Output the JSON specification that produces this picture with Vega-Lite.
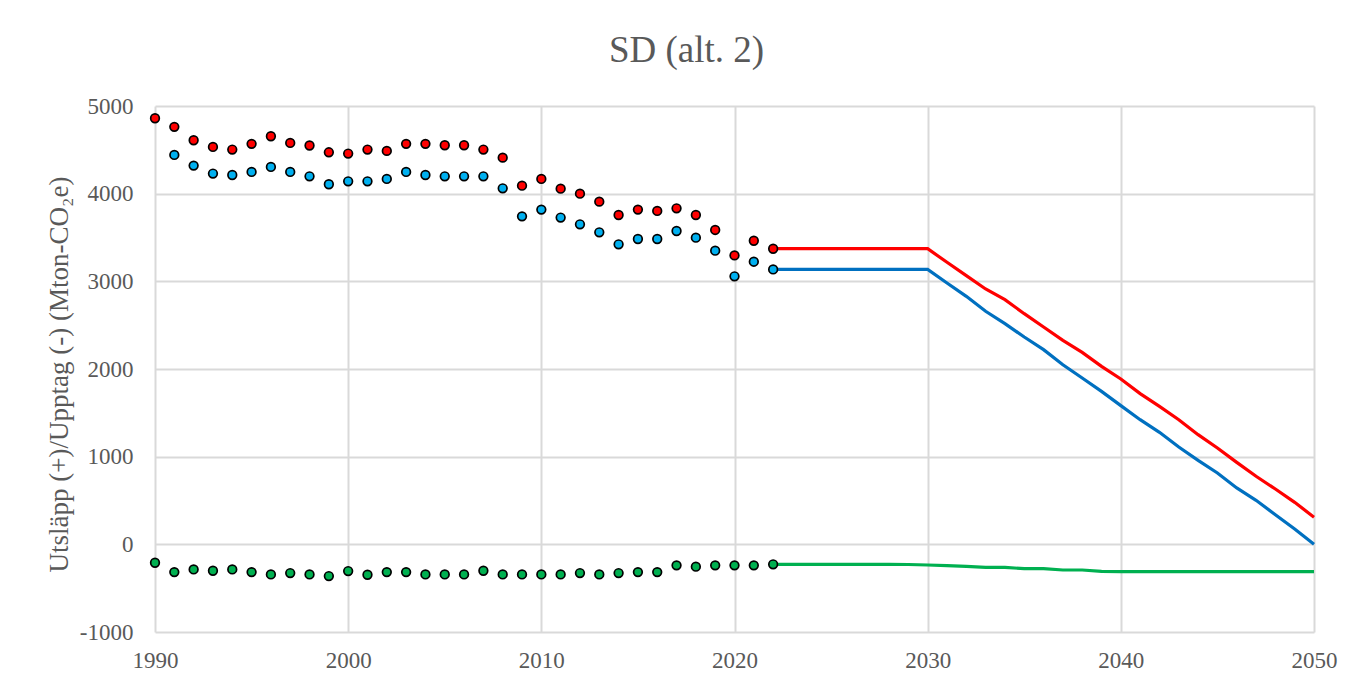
{
  "$schema": "https://vega.github.io/schema/vega-lite/v6.json",
  "width": 1159,
  "height": 526,
  "autosize": {"type": "none"},
  "padding": {"left": 155, "top": 106, "right": 43, "bottom": 50},
  "background": "white",
  "config": {
    "font": "Liberation Serif",
    "view": {"stroke": null},
    "axis": {
      "grid": true,
      "gridColor": "#d9d9d9",
      "gridWidth": 2,
      "domain": false,
      "ticks": false,
      "tickSize": 0,
      "labelFont": "Liberation Serif",
      "labelFontSize": 23,
      "labelColor": "#595959",
      "labelFlush": false,
      "labelOverlap": false,
      "labelExpr": "'' + datum.value"
    }
  },
  "title": {
    "text": "SD (alt. 2)",
    "font": "Liberation Serif",
    "fontSize": 37,
    "fontWeight": "normal",
    "color": "#595959",
    "anchor": "middle",
    "frame": "group",
    "baseline": "alphabetic",
    "offset": 41,
    "dx": -48,
    "dy": 45
  },
  "datasets": {
    "hist": [
      {"year": 1990, "Utsläpp": 4860, "Netto": null, "Upptag": -210},
      {"year": 1991, "Utsläpp": 4762, "Netto": 4442, "Upptag": -317},
      {"year": 1992, "Utsläpp": 4609, "Netto": 4320, "Upptag": -286},
      {"year": 1993, "Utsläpp": 4533, "Netto": 4229, "Upptag": -301},
      {"year": 1994, "Utsläpp": 4503, "Netto": 4213, "Upptag": -286},
      {"year": 1995, "Utsläpp": 4568, "Netto": 4248, "Upptag": -317},
      {"year": 1996, "Utsläpp": 4655, "Netto": 4305, "Upptag": -343},
      {"year": 1997, "Utsläpp": 4579, "Netto": 4248, "Upptag": -328},
      {"year": 1998, "Utsläpp": 4549, "Netto": 4198, "Upptag": -343},
      {"year": 1999, "Utsläpp": 4472, "Netto": 4107, "Upptag": -362},
      {"year": 2000, "Utsläpp": 4457, "Netto": 4141, "Upptag": -305},
      {"year": 2001, "Utsläpp": 4503, "Netto": 4141, "Upptag": -347},
      {"year": 2002, "Utsläpp": 4488, "Netto": 4168, "Upptag": -317},
      {"year": 2003, "Utsläpp": 4568, "Netto": 4248, "Upptag": -317},
      {"year": 2004, "Utsläpp": 4568, "Netto": 4213, "Upptag": -343},
      {"year": 2005, "Utsläpp": 4552, "Netto": 4198, "Upptag": -343},
      {"year": 2006, "Utsläpp": 4552, "Netto": 4198, "Upptag": -343},
      {"year": 2007, "Utsläpp": 4503, "Netto": 4198, "Upptag": -301},
      {"year": 2008, "Utsläpp": 4411, "Netto": 4061, "Upptag": -343},
      {"year": 2009, "Utsläpp": 4091, "Netto": 3741, "Upptag": -343},
      {"year": 2010, "Utsläpp": 4168, "Netto": 3818, "Upptag": -343},
      {"year": 2011, "Utsläpp": 4057, "Netto": 3727, "Upptag": -343},
      {"year": 2012, "Utsläpp": 4000, "Netto": 3650, "Upptag": -328},
      {"year": 2013, "Utsläpp": 3909, "Netto": 3559, "Upptag": -343},
      {"year": 2014, "Utsläpp": 3757, "Netto": 3422, "Upptag": -328},
      {"year": 2015, "Utsläpp": 3818, "Netto": 3483, "Upptag": -317},
      {"year": 2016, "Utsläpp": 3803, "Netto": 3483, "Upptag": -317},
      {"year": 2017, "Utsläpp": 3833, "Netto": 3574, "Upptag": -240},
      {"year": 2018, "Utsläpp": 3757, "Netto": 3498, "Upptag": -255},
      {"year": 2019, "Utsläpp": 3586, "Netto": 3350, "Upptag": -240},
      {"year": 2020, "Utsläpp": 3296, "Netto": 3057, "Upptag": -240},
      {"year": 2021, "Utsläpp": 3463, "Netto": 3224, "Upptag": -240},
      {"year": 2022, "Utsläpp": 3372, "Netto": 3136, "Upptag": -228}
    ],
    "scen": [
      {"year": 2022, "Utsläpp": 3372, "Netto": 3136, "Upptag": -228},
      {"year": 2023, "Utsläpp": 3372, "Netto": 3136, "Upptag": -228},
      {"year": 2024, "Utsläpp": 3372, "Netto": 3136, "Upptag": -228},
      {"year": 2025, "Utsläpp": 3372, "Netto": 3136, "Upptag": -228},
      {"year": 2026, "Utsläpp": 3372, "Netto": 3136, "Upptag": -228},
      {"year": 2027, "Utsläpp": 3372, "Netto": 3136, "Upptag": -228},
      {"year": 2028, "Utsläpp": 3372, "Netto": 3136, "Upptag": -228},
      {"year": 2029, "Utsläpp": 3372, "Netto": 3136, "Upptag": -230},
      {"year": 2030, "Utsläpp": 3372, "Netto": 3136, "Upptag": -236},
      {"year": 2031, "Utsläpp": 3217, "Netto": 2981, "Upptag": -243},
      {"year": 2032, "Utsläpp": 3065, "Netto": 2829, "Upptag": -251},
      {"year": 2033, "Utsläpp": 2913, "Netto": 2658, "Upptag": -262},
      {"year": 2034, "Utsläpp": 2791, "Netto": 2517, "Upptag": -262},
      {"year": 2035, "Utsläpp": 2631, "Netto": 2365, "Upptag": -278},
      {"year": 2036, "Utsläpp": 2479, "Netto": 2221, "Upptag": -278},
      {"year": 2037, "Utsläpp": 2327, "Netto": 2049, "Upptag": -293},
      {"year": 2038, "Utsläpp": 2190, "Netto": 1897, "Upptag": -293},
      {"year": 2039, "Utsläpp": 2030, "Netto": 1745, "Upptag": -308},
      {"year": 2040, "Utsläpp": 1886, "Netto": 1582, "Upptag": -312},
      {"year": 2041, "Utsläpp": 1719, "Netto": 1422, "Upptag": -312},
      {"year": 2042, "Utsläpp": 1574, "Netto": 1278, "Upptag": -312},
      {"year": 2043, "Utsläpp": 1422, "Netto": 1110, "Upptag": -312},
      {"year": 2044, "Utsläpp": 1251, "Netto": 958, "Upptag": -312},
      {"year": 2045, "Utsläpp": 1099, "Netto": 814, "Upptag": -312},
      {"year": 2046, "Utsläpp": 935, "Netto": 643, "Upptag": -312},
      {"year": 2047, "Utsläpp": 776, "Netto": 502, "Upptag": -312},
      {"year": 2048, "Utsläpp": 631, "Netto": 338, "Upptag": -312},
      {"year": 2049, "Utsläpp": 479, "Netto": 175, "Upptag": -312},
      {"year": 2050, "Utsläpp": 310, "Netto": 0, "Upptag": -312}
    ]
  },
  "encoding": {
    "x": {
      "field": "year",
      "type": "quantitative",
      "scale": {"domain": [1990, 2050], "nice": false, "zero": false},
      "axis": {
        "values": [1990, 2000, 2010, 2020, 2030, 2040, 2050],
        "title": null,
        "labelPadding": 17
      }
    },
    "y": {
      "field": "v",
      "type": "quantitative",
      "scale": {"domain": [-1000, 5000], "nice": false, "zero": false},
      "axis": {
        "values": [-1000, 0, 1000, 2000, 3000, 4000, 5000],
        "labelPadding": 22,
        "title": "Utsläpp (+)/Upptag (-) (Mton-CO₂e)",
        "titleFont": "Liberation Serif",
        "titleFontSize": 27,
        "titleFontWeight": "normal",
        "titleColor": "#595959",
        "titleAngle": 270,
        "titleBaseline": "alphabetic",
        "titleAlign": "center",
        "titleX": -88,
        "titleY": 268
      }
    }
  },
  "layer": [
    {
      "data": {"name": "scen"},
      "transform": [{"fold": ["Utsläpp", "Netto", "Upptag"], "as": ["serie", "v"]}],
      "mark": {"type": "line", "strokeWidth": 3.2, "interpolate": "linear"},
      "encoding": {
        "stroke": {
          "field": "serie",
          "type": "nominal",
          "scale": {"domain": ["Utsläpp", "Netto", "Upptag"], "range": ["#FF0000", "#0070C0", "#00B050"]},
          "legend": null
        }
      }
    },
    {
      "data": {"name": "hist"},
      "transform": [{"fold": ["Utsläpp", "Netto", "Upptag"], "as": ["serie", "v"]}, {"filter": "datum.v != null"}],
      "mark": {"type": "point", "shape": "circle", "filled": true, "size": 75, "stroke": "black", "strokeWidth": 1.7, "opacity": 1},
      "encoding": {
        "fill": {
          "field": "serie",
          "type": "nominal",
          "scale": {"domain": ["Utsläpp", "Netto", "Upptag"], "range": ["#FF0000", "#00B0F0", "#00B050"]},
          "legend": null
        }
      }
    }
  ]
}
